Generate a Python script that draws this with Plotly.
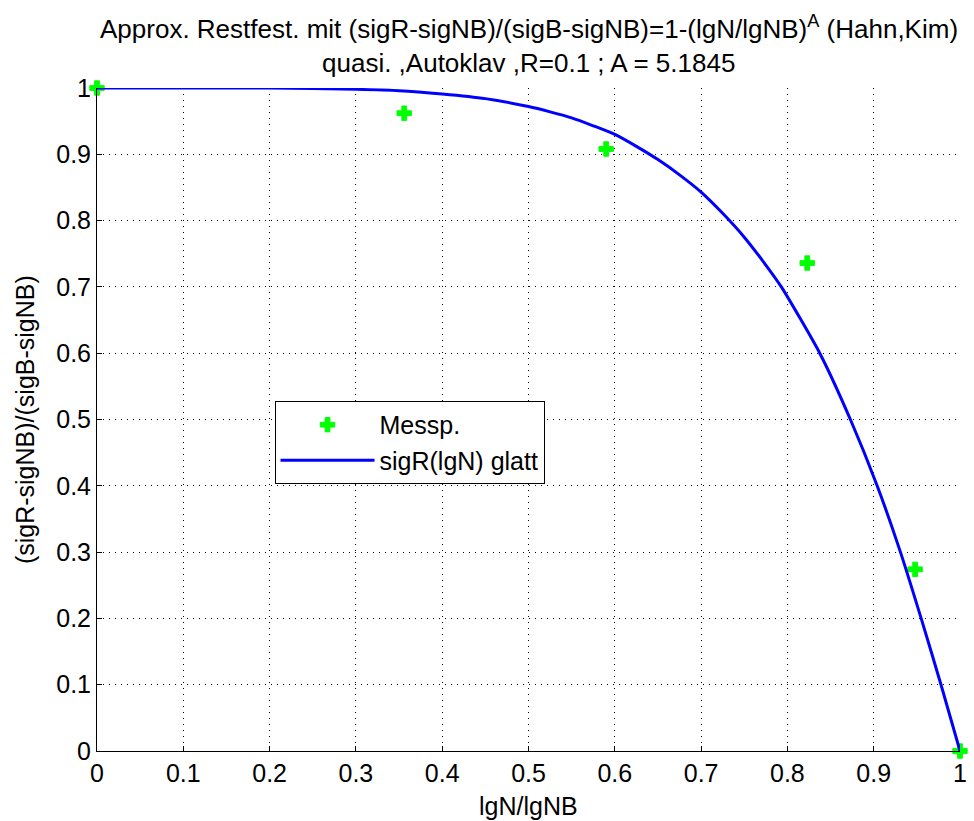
import plotly.graph_objects as go

# measured points
meas_x = [0.0, 0.356, 0.590, 0.823, 0.948, 1.0]
meas_y = [1.0, 0.962, 0.908, 0.736, 0.274, 0.0]

# smoothed curve
fit_x = [0.0, 0.1, 0.2, 0.3, 0.35, 0.4, 0.45, 0.5, 0.525, 0.55, 0.575, 0.6,
         0.625, 0.65, 0.675, 0.7, 0.725, 0.75, 0.775, 0.793, 0.8375, 0.873,
         0.904, 0.931, 0.955, 0.978, 1.0]
fit_y = [1.0, 1.0, 1.0, 0.998, 0.996, 0.991, 0.984, 0.972, 0.964, 0.955, 0.943, 0.930,
         0.912, 0.892, 0.869, 0.843, 0.811, 0.775, 0.733, 0.700, 0.600, 0.500,
         0.400, 0.300, 0.200, 0.100, 0.0]

tick_vals = [i / 10 for i in range(11)]
tick_text = ["0", "0.1", "0.2", "0.3", "0.4", "0.5", "0.6", "0.7", "0.8", "0.9", "1"]

title_line1 = "Approx. Restfest. mit (sigR-sigNB)/(sigB-sigNB)=1-(lgN/lgNB)<sup>A</sup> (Hahn,Kim)"
title_line2 = "quasi. ,Autoklav ,R=0.1 ; A = 5.1845"
x_title = "lgN/lgNB"
y_title = "(sigR-sigNB)/(sigB-sigNB)"

FONT = "Liberation Sans, Arial, sans-serif"
FS = 25

fig = go.Figure()
fig.add_trace(go.Scatter(
    x=meas_x, y=meas_y, mode="markers", name="Messp.",
    marker=dict(symbol="cross", size=12, color="#00ff00",
                line=dict(width=1, color="#00ff00")),
    cliponaxis=False,
))
fig.add_trace(go.Scatter(
    x=fit_x, y=fit_y, mode="lines", name="sigR(lgN) glatt",
    line=dict(color="#0000ff", width=3, shape="spline", smoothing=0.6),
    cliponaxis=False,
))

axis_common = dict(
    range=[0, 1], tickvals=tick_vals, ticktext=tick_text,
    showgrid=True, gridcolor="#000000", gridwidth=1, griddash="1px,5px",
    zeroline=False, showline=True, linecolor="#000000", linewidth=1,
    ticks="inside", ticklen=5, tickcolor="#000000", mirror=False,
    tickfont=dict(family=FONT, size=FS, color="#000000"),
)

fig.update_layout(
    width=974, height=821,
    margin=dict(l=97, r=7, t=88, b=70),
    paper_bgcolor="white", plot_bgcolor="white",
    font=dict(family=FONT, size=FS, color="#000000"),
    xaxis=dict(**axis_common),
    yaxis=dict(**axis_common),
    legend=dict(
        x=0.2057, y=0.528, xanchor="left", yanchor="top",
        bordercolor="#000000", borderwidth=1, bgcolor="white",
        font=dict(family=FONT, size=FS, color="#000000"),
        itemwidth=94, tracegroupgap=0,
    ),
    showlegend=True,
    annotations=[
        dict(text=title_line1, xref="paper", yref="paper", x=0.5, y=1.092,
             xanchor="center", yanchor="middle", showarrow=False,
             font=dict(family=FONT, size=26, color="#000000")),
        dict(text=title_line2, xref="paper", yref="paper", x=0.5, y=1.0377,
             xanchor="center", yanchor="middle", showarrow=False,
             font=dict(family=FONT, size=26, color="#000000")),
        dict(text=x_title, xref="paper", yref="paper", x=0.5, y=-0.0830,
             xanchor="center", yanchor="middle", showarrow=False,
             font=dict(family=FONT, size=FS, color="#000000")),
        dict(text=y_title, xref="paper", yref="paper", x=-0.0839, y=0.5,
             xanchor="center", yanchor="middle", showarrow=False, textangle=-90,
             font=dict(family=FONT, size=FS, color="#000000")),
    ],
)

fig.write_html("out.html")
